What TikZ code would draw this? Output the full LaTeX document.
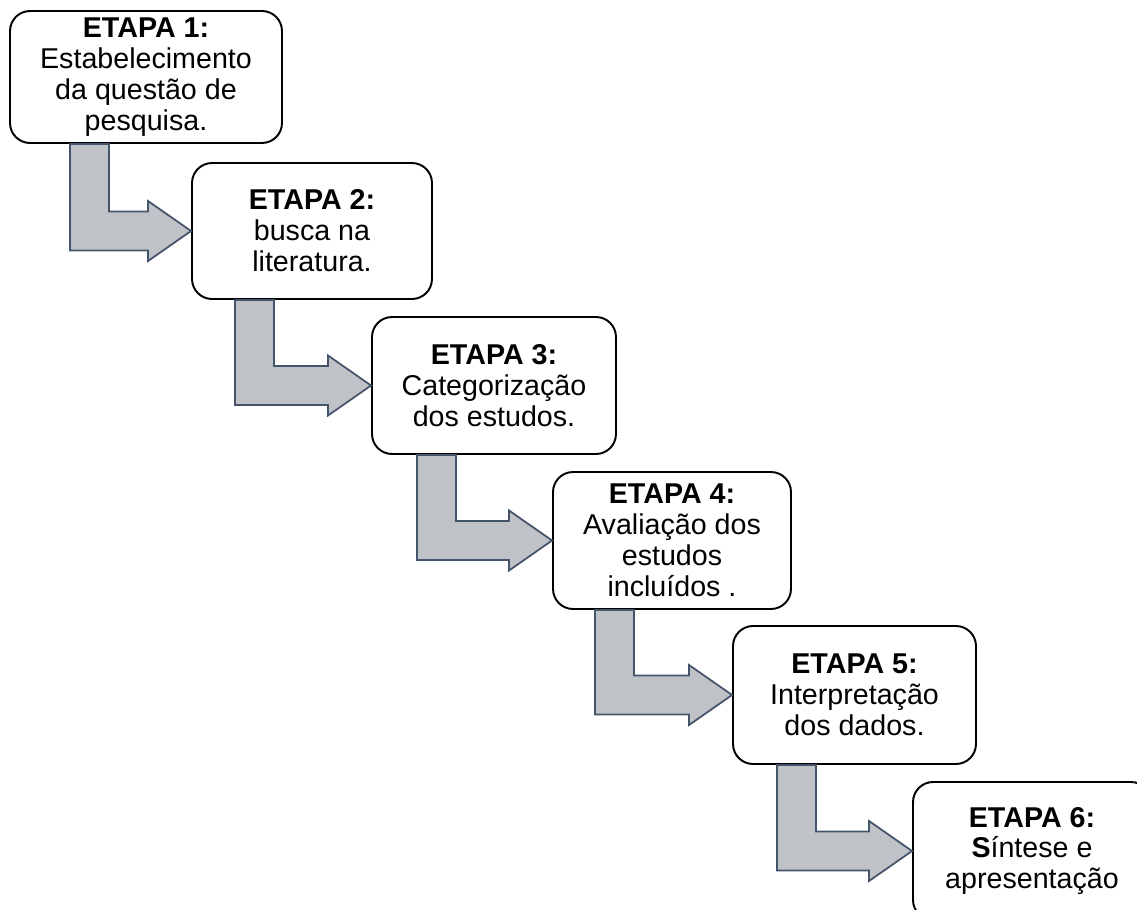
\documentclass[tikz,border=0pt]{standalone}
\usepackage{fontspec}
\setmainfont{Liberation Sans}
\usetikzlibrary{calc}
\definecolor{ArrowFill}{RGB}{191,194,199}
\definecolor{ArrowLine}{RGB}{68,84,106}
\tikzset{%
  stage/.style={draw, line width=1.1pt, rounded corners=0.4cm, fill=white,
    align=center, inner sep=0pt, font=\fontsize{16.3}{17.6}\selectfont},
  flow arrow/.style={fill=ArrowFill, draw=ArrowLine, line width=1pt, line join=miter}
}

\begin{document}
\begin{tikzpicture}[x=0.02cm, y=-0.02cm]
  \useasboundingbox (0,0) rectangle (1137,910);
  % the six stages
  \node[stage, minimum width=5.44cm, minimum height=2.64cm] (s1) at (146,77)
    {\textbf{ETAPA 1:}\\Estabelecimento\\da questão de\\pesquisa.};
  \node[stage, minimum width=4.8cm, minimum height=2.72cm] (s2) at (312,231)
    {\textbf{ETAPA 2:}\\busca na\\literatura.};
  \node[stage, minimum width=4.88cm, minimum height=2.74cm] (s3) at (494,385.5)
    {\textbf{ETAPA 3:}\\Categorização\\dos estudos.};
  \node[stage, minimum width=4.76cm, minimum height=2.74cm] (s4) at (672,540.5)
    {\textbf{ETAPA 4:}\\Avaliação dos\\estudos\\incluídos .};
  \node[stage, minimum width=4.86cm, minimum height=2.76cm] (s5) at (854.5,695)
    {\textbf{ETAPA 5:}\\Interpretação\\dos dados.};
  \node[stage, minimum width=4.76cm, minimum height=2.76cm] (s6) at (1032,851)
    {\textbf{ETAPA 6:}\\\textbf{S}íntese e\\apresentação};
  % bent arrows: stem offset from the left side of the upper box
  \foreach \a/\b/\off in {s1/s2/61, s2/s3/44, s3/s4/46, s4/s5/43, s5/s6/45} {
    \coordinate (sl) at ($(\a.south west)+(\off,0)$);
    \coordinate (sr) at ($(sl)+(39,0)$);
    \coordinate (bt) at ($(\b.west)+(-43,-19.5)$);
    \coordinate (bb) at ($(\b.west)+(-43,19.5)$);
    \draw[flow arrow] (sl) -- (sr) -- (sr |- bt) -- (bt) -- ($(bt)+(0,-10.5)$)
      -- (\b.west) -- ($(bb)+(0,10.5)$) -- (bb) -- (sl |- bb) -- cycle;
  }
\end{tikzpicture}
\end{document}
